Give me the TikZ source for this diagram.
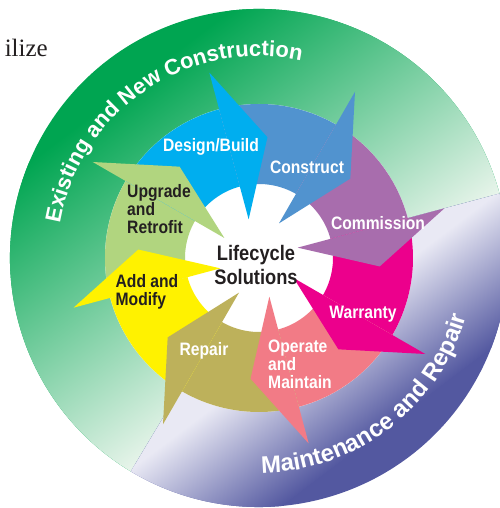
\documentclass[tikz,border=0pt]{standalone}
\usepackage{fontspec}
\usepackage{xcolor}
\usepackage{tikz}
\usetikzlibrary{decorations.text}
\setmainfont{Liberation Serif}
\newfontfamily\labfont[FakeStretch=0.87]{Liberation Sans Bold}
\newfontfamily\ringfont{Liberation Sans Bold}

\definecolor{cDesign}{HTML}{00AEEF}
\definecolor{cConstruct}{HTML}{5193CF}
\definecolor{cCommission}{HTML}{A86DAD}
\definecolor{cWarranty}{HTML}{EC008C}
\definecolor{cOperate}{HTML}{F27B86}
\definecolor{cRepair}{HTML}{BDB15B}
\definecolor{cAdd}{HTML}{FFF200}
\definecolor{cUpgrade}{HTML}{B1D57F}
\definecolor{ringgreen}{HTML}{00A551}
\definecolor{ringgreenlight}{HTML}{EAF5EC}
\definecolor{ringpurple}{HTML}{5358A0}
\definecolor{ringpurplelight}{HTML}{E9E9F4}
\definecolor{darktext}{HTML}{231F20}

\begin{document}
\begin{tikzpicture}[
    stagetext/.style={font=\labfont\fontsize{18}{18}\selectfont, text=white, align=left, inner sep=0pt},
    darkstage/.style={stagetext, text=darktext},
]
\useasboundingbox (-259pt,-250pt) rectangle (240pt,258pt);

% Outer ring, green part
\begin{scope}
  \clip (0,0) -- (15:249pt) arc[start angle=15, end angle=239, radius=249pt] -- cycle;
  \fill[ringgreen] (0,0) circle (250pt);
  \begin{scope}[transform canvas={rotate=37}]
    \shade[bottom color=ringgreenlight, top color=ringgreen] (-260pt,-95pt) rectangle (260pt,215pt);
  \end{scope}
\end{scope}

% Outer ring, purple part
\begin{scope}
  \clip (0,0) -- (239:249pt) arc[start angle=239, end angle=375, radius=249pt] -- cycle;
  \fill[ringpurple] (0,0) circle (250pt);
  \begin{scope}[transform canvas={rotate=37}]
    \fill[ringpurplelight] (-260pt,-92pt) rectangle (260pt,10pt);
    \shade[top color=ringpurplelight, bottom color=ringpurple] (-260pt,-212pt) rectangle (260pt,-91pt);
  \end{scope}
\end{scope}

% White middle
\fill[white] (0,0) circle (154pt);

% Arrow bodies
\foreach \a/\col in {150/cUpgrade, 105/cDesign, 60/cConstruct, 15/cCommission, -30/cWarranty, -75/cOperate, -120/cRepair, -165/cAdd} {
    \pgfmathsetmacro{\b}{\a+45}
    \fill[\col] (\a:74pt) arc[start angle=\a, end angle=\b, radius=74pt]
        -- (\b:154pt) arc[start angle=\b, end angle=\a, radius=154pt] -- cycle;
}

% Arrow heads
\foreach \a/\col in {150/cUpgrade, 105/cDesign, 60/cConstruct, 15/cCommission, -30/cWarranty, -75/cOperate, -120/cRepair, -165/cAdd} {
    \pgfmathsetmacro{\t}{\a-19}
    \fill[\col] (\a:40pt) -- (\a:192pt) -- (\t:121pt) -- cycle;
}

% Stage labels
\node (design) at (-48pt,111pt) [stagetext] {Design/Build};
\node (construct) at (48pt,91pt) [stagetext] {Construct};
\node (commission) at (119pt,35pt) [stagetext] {Commission};
\node (warranty) at (104pt,-56pt) [stagetext] {Warranty};
\node (operate) at (41pt,-106pt) [stagetext] {Operate\\and\\Maintain};
\node (repair) at (-55pt,-93pt) [stagetext] {Repair};
\node (addmodify) at (-112pt,-34pt) [darkstage] {Add and\\Modify};
\node (upgrade) at (-100pt,49pt) [darkstage] {Upgrade\\and\\Retrofit};
\node (lifecycle) at (-3pt,-7pt) [darkstage, align=center, font=\labfont\fontsize{21}{24}\selectfont] {Lifecycle\\Solutions};

% Ring texts
\path[decorate, decoration={text along path, text align=center, text color=white,
    text={|\ringfont\fontsize{22}{26}\selectfont|Existing and New Construction}}]
    (172:202pt) arc[start angle=172, end angle=76, radius=202pt];
\path[decorate, decoration={text along path, text align=center, text color=white,
    text={|\ringfont\fontsize{24}{28}\selectfont|Maintenance and Repair}}]
    (-97:215pt) arc[start angle=-97, end angle=-8, radius=215pt];

% Cut-off page text
\node (pagetext) at (-211pt,201pt) [anchor=base east, font=\fontsize{25}{28}\selectfont, text=darktext, inner sep=0pt] {ilize};

\end{tikzpicture}
\end{document}
